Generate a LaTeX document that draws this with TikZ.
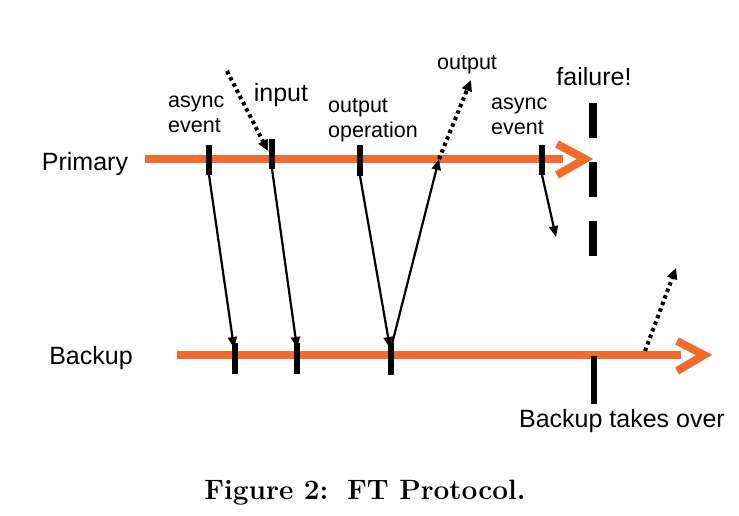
\documentclass[tikz,border=0pt]{standalone}
\usepackage{fontspec}
\setmainfont{Latin Modern Roman}
\newfontfamily\arial{Liberation Sans}
\usetikzlibrary{arrows.meta}
\definecolor{tl}{HTML}{F26A2E}
\tikzset{
  timeline/.style={draw=tl,line width=8pt},
  chev/.style={draw=tl,line width=8pt,line join=miter},
  tick/.style={draw=black,line width=6pt},
  msg/.style={draw=black,line width=2.2pt,-{Triangle[length=11pt,width=9pt]},shorten >=0pt},
  dotmsg/.style={draw=black,line width=4pt,dash pattern=on 3.5pt off 3.5pt,-{Triangle[length=11pt,width=10pt]}},
  big/.style={font=\arial\fontsize{25}{28}\selectfont,inner sep=0pt},
  small/.style={font=\arial\fontsize{21.5}{24.5}\selectfont,inner sep=0pt,align=left},
}
\begin{document}
\begin{tikzpicture}[x=1pt,y=-1pt]
\useasboundingbox (0,0) rectangle (739,515);
% timelines
\coordinate (p0) at (145,159);
\coordinate (p1) at (563,159);
\coordinate (pt) at (585,159);
\coordinate (pa) at (557,144);
\coordinate (pb) at (557,175);
\draw[timeline] (p0) -- (p1);
\draw[chev] (pa) -- (pt) -- (pb);
\coordinate (b0) at (177,355);
\coordinate (b1) at (681,355);
\coordinate (bt) at (704,355);
\coordinate (ba) at (677,341);
\coordinate (bb) at (677,371);
\draw[timeline] (b0) -- (b1);
\draw[chev] (ba) -- (bt) -- (bb);
% ticks primary
\draw[tick] (209,145) coordinate (t1a) -- (209,175) coordinate (t1b);
\draw[tick] (272,139) coordinate (t2a) -- (272,169) coordinate (t2b);
\draw[tick] (360,145) coordinate (t3a) -- (360,176) coordinate (t3b);
\draw[tick] (542,145) coordinate (t4a) -- (542,175) coordinate (t4b);
% ticks backup
\draw[tick] (235,343) coordinate (u1a) -- (235,374) coordinate (u1b);
\draw[tick] (297,343) coordinate (u2a) -- (297,374) coordinate (u2b);
\draw[tick] (391,343) coordinate (u3a) -- (391,375) coordinate (u3b);
\draw[tick] (594,356) coordinate (u4a) -- (594,404) coordinate (u4b);
% failure
\draw[line width=8pt,dash pattern=on 35pt off 24pt] (593,103) coordinate (f0) -- (593,256) coordinate (f1);
% messages
\draw[msg] (t1b) -- (234,348);
\draw[msg] (t2b) -- (297,348);
\draw[msg] (t3b) -- (390,348);
\draw[msg] (391,348) coordinate (o0) -- (439,159) coordinate (o1);
\draw[msg] (t4b) -- (556,237) coordinate (a2);
\coordinate (in0) at (227,71);
\coordinate (in1) at (268,151);
\draw[dotmsg] (in0) -- (in1);
\coordinate (out1) at (471,80);
\draw[dotmsg] (o1) -- (out1);
\coordinate (bo0) at (645,351);
\coordinate (bo1) at (676,268);
\draw[dotmsg] (bo0) -- (bo1);
% labels
\node[big,anchor=base] (lprim) at (85,170) {Primary};
\node[big,anchor=base] (lback) at (91,364) {Backup};
\node[big,anchor=base] (ltake) at (622,427) {Backup takes over};
\node[big,anchor=base] (lfail) at (594,85) {failure!};
\node[big,anchor=base] (lin) at (281,101) {input};
\node[small,anchor=base west] (lae1) at (168,132) {async\\event};
\node[small,anchor=base west] (lop) at (328,137) {output\\operation};
\node[small,anchor=base west] (lout) at (437,69) {output};
\node[small,anchor=base west] (lae2) at (491,134) {async\\event};
\node[font=\fontsize{28}{32}\selectfont\bfseries,anchor=base,inner sep=0pt] (cap) at (365,499) {Figure 2:\, FT Protocol.};
\end{tikzpicture}
\end{document}
